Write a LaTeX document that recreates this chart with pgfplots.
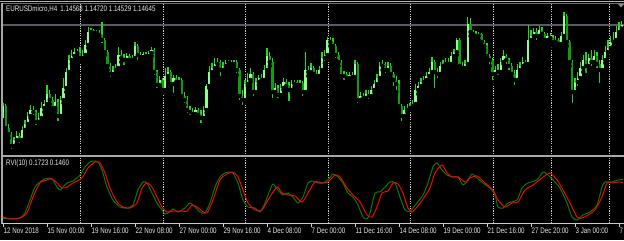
\documentclass[border=0pt]{standalone}
\usepackage{pgfplots}
\pgfplotsset{compat=1.18}
\usepackage{pgfplotstable}
\usepackage{graphicx}
\usepackage{fontspec}
\setmainfont{Liberation Sans}
\definecolor{wick}{HTML}{22D822}
\definecolor{bull}{HTML}{8CFF8C}
\definecolor{bear}{HTML}{0CA00C}
\definecolor{rvimain}{HTML}{008000}
\definecolor{rvisig}{HTML}{FF0000}
\definecolor{txt}{HTML}{E6E6E6}
\definecolor{framec}{HTML}{A8A8A8}
\definecolor{bidc}{HTML}{5A5A64}
\newcommand{\mt}[1]{\scalebox{0.78}[1]{\fontsize{8}{9}\selectfont #1}}

\pgfplotstableread{
i o h l c
0 1.1274 1.1308 1.1270 1.1302
1 1.1302 1.1306 1.1252 1.1258
2 1.1258 1.1266 1.1238 1.1246
3 1.1246 1.1250 1.1212 1.1222
4 1.1222 1.1240 1.1216 1.1234
5 1.1234 1.1252 1.1228 1.1242
6 1.1242 1.1248 1.1224 1.1234
7 1.1234 1.1262 1.1230 1.1254
8 1.1254 1.1274 1.1248 1.1266
9 1.1266 1.1290 1.1260 1.1282
10 1.1282 1.1304 1.1278 1.1294
11 1.1294 1.1302 1.1280 1.1290
12 1.1290 1.1294 1.1260 1.1270
13 1.1270 1.1288 1.1264 1.1278
14 1.1278 1.1310 1.1274 1.1298
15 1.1298 1.1314 1.1290 1.1306
16 1.1306 1.1344 1.1300 1.1326
17 1.1326 1.1334 1.1306 1.1314
18 1.1314 1.1320 1.1290 1.1298
19 1.1298 1.1326 1.1292 1.1310
20 1.1310 1.1316 1.1268 1.1282
21 1.1282 1.1322 1.1278 1.1314
22 1.1314 1.1358 1.1308 1.1338
23 1.1338 1.1378 1.1330 1.1370
24 1.1370 1.1404 1.1362 1.1394
25 1.1394 1.1414 1.1386 1.1402
26 1.1402 1.1418 1.1394 1.1410
27 1.1410 1.1416 1.1400 1.1408
28 1.1408 1.1420 1.1390 1.1398
29 1.1398 1.1414 1.1392 1.1404
30 1.1404 1.1434 1.1400 1.1424
31 1.1424 1.1460 1.1418 1.1450
32 1.1450 1.1458 1.1444 1.1454
33 1.1454 1.1456 1.1442 1.1448
34 1.1448 1.1454 1.1440 1.1450
35 1.1450 1.1454 1.1438 1.1444
36 1.1444 1.1470 1.1424 1.1434
37 1.1434 1.1438 1.1404 1.1410
38 1.1410 1.1414 1.1374 1.1382
39 1.1382 1.1388 1.1356 1.1366
40 1.1366 1.1382 1.1360 1.1374
41 1.1374 1.1386 1.1366 1.1378
42 1.1378 1.1420 1.1374 1.1404
43 1.1404 1.1414 1.1390 1.1398
44 1.1398 1.1406 1.1380 1.1394
45 1.1394 1.1408 1.1388 1.1402
46 1.1402 1.1406 1.1388 1.1394
47 1.1394 1.1404 1.1390 1.1398
48 1.1398 1.1430 1.1394 1.1422
49 1.1422 1.1426 1.1390 1.1404
50 1.1404 1.1410 1.1394 1.1400
51 1.1400 1.1410 1.1398 1.1406
52 1.1406 1.1410 1.1398 1.1402
53 1.1402 1.1412 1.1398 1.1408
54 1.1408 1.1420 1.1402 1.1414
55 1.1414 1.1418 1.1360 1.1370
56 1.1370 1.1374 1.1334 1.1344
57 1.1344 1.1362 1.1338 1.1354
58 1.1354 1.1358 1.1328 1.1334
59 1.1334 1.1378 1.1330 1.1362
60 1.1362 1.1380 1.1354 1.1370
61 1.1370 1.1374 1.1338 1.1346
62 1.1346 1.1364 1.1324 1.1358
63 1.1358 1.1364 1.1344 1.1350
64 1.1350 1.1360 1.1342 1.1354
65 1.1354 1.1358 1.1314 1.1322
66 1.1322 1.1330 1.1304 1.1314
67 1.1314 1.1322 1.1284 1.1294
68 1.1294 1.1302 1.1280 1.1290
69 1.1290 1.1298 1.1280 1.1286
70 1.1286 1.1300 1.1278 1.1294
71 1.1294 1.1298 1.1278 1.1284
72 1.1284 1.1294 1.1264 1.1278
73 1.1278 1.1302 1.1272 1.1294
74 1.1294 1.1346 1.1288 1.1342
75 1.1342 1.1382 1.1338 1.1370
76 1.1370 1.1388 1.1362 1.1378
77 1.1378 1.1398 1.1370 1.1386
78 1.1386 1.1398 1.1378 1.1390
79 1.1390 1.1394 1.1358 1.1374
80 1.1374 1.1390 1.1370 1.1382
81 1.1382 1.1394 1.1378 1.1388
82 1.1388 1.1394 1.1382 1.1390
83 1.1390 1.1394 1.1380 1.1386
84 1.1386 1.1394 1.1382 1.1390
85 1.1390 1.1394 1.1364 1.1374
86 1.1374 1.1378 1.1310 1.1322
87 1.1322 1.1334 1.1300 1.1314
88 1.1314 1.1354 1.1310 1.1346
89 1.1346 1.1368 1.1342 1.1354
90 1.1354 1.1378 1.1350 1.1366
91 1.1366 1.1370 1.1318 1.1330
92 1.1330 1.1358 1.1326 1.1350
93 1.1350 1.1364 1.1344 1.1358
94 1.1358 1.1366 1.1346 1.1354
95 1.1354 1.1384 1.1350 1.1374
96 1.1374 1.1418 1.1370 1.1402
97 1.1402 1.1410 1.1382 1.1390
98 1.1390 1.1398 1.1314 1.1330
99 1.1330 1.1348 1.1322 1.1338
100 1.1338 1.1344 1.1314 1.1324
101 1.1324 1.1346 1.1318 1.1338
102 1.1338 1.1358 1.1334 1.1350
103 1.1350 1.1356 1.1334 1.1342
104 1.1342 1.1350 1.1308 1.1334
105 1.1334 1.1354 1.1328 1.1346
106 1.1346 1.1354 1.1340 1.1350
107 1.1350 1.1354 1.1338 1.1344
108 1.1344 1.1354 1.1340 1.1348
109 1.1348 1.1352 1.1318 1.1330
110 1.1330 1.1410 1.1326 1.1374
111 1.1374 1.1382 1.1362 1.1370
112 1.1370 1.1388 1.1364 1.1378
113 1.1378 1.1382 1.1358 1.1366
114 1.1366 1.1374 1.1354 1.1362
115 1.1362 1.1382 1.1358 1.1374
116 1.1374 1.1410 1.1370 1.1398
117 1.1398 1.1414 1.1388 1.1404
118 1.1404 1.1440 1.1398 1.1434
119 1.1434 1.1440 1.1422 1.1430
120 1.1430 1.1438 1.1414 1.1422
121 1.1422 1.1426 1.1394 1.1404
122 1.1404 1.1410 1.1382 1.1390
123 1.1390 1.1394 1.1354 1.1362
124 1.1362 1.1372 1.1350 1.1366
125 1.1366 1.1370 1.1352 1.1358
126 1.1358 1.1370 1.1354 1.1364
127 1.1364 1.1370 1.1354 1.1360
128 1.1360 1.1394 1.1356 1.1386
129 1.1386 1.1390 1.1304 1.1314
130 1.1314 1.1330 1.1310 1.1322
131 1.1322 1.1328 1.1310 1.1318
132 1.1318 1.1334 1.1314 1.1326
133 1.1326 1.1334 1.1312 1.1322
134 1.1322 1.1342 1.1318 1.1334
135 1.1334 1.1354 1.1330 1.1346
136 1.1346 1.1366 1.1342 1.1358
137 1.1358 1.1390 1.1354 1.1382
138 1.1382 1.1394 1.1374 1.1386
139 1.1386 1.1390 1.1364 1.1374
140 1.1374 1.1390 1.1366 1.1382
141 1.1382 1.1388 1.1358 1.1366
142 1.1366 1.1370 1.1338 1.1354
143 1.1354 1.1362 1.1330 1.1346
144 1.1346 1.1354 1.1294 1.1302
145 1.1302 1.1306 1.1268 1.1282
146 1.1282 1.1302 1.1278 1.1294
147 1.1294 1.1306 1.1290 1.1298
148 1.1298 1.1308 1.1294 1.1302
149 1.1302 1.1314 1.1298 1.1306
150 1.1306 1.1346 1.1302 1.1334
151 1.1334 1.1350 1.1326 1.1342
152 1.1342 1.1358 1.1338 1.1350
153 1.1350 1.1362 1.1344 1.1354
154 1.1354 1.1370 1.1348 1.1362
155 1.1362 1.1378 1.1356 1.1370
156 1.1370 1.1400 1.1364 1.1390
157 1.1390 1.1394 1.1334 1.1370
158 1.1370 1.1378 1.1354 1.1366
159 1.1366 1.1390 1.1362 1.1382
160 1.1382 1.1394 1.1374 1.1386
161 1.1386 1.1398 1.1380 1.1390
162 1.1390 1.1398 1.1378 1.1386
163 1.1386 1.1410 1.1382 1.1402
164 1.1402 1.1416 1.1394 1.1410
165 1.1410 1.1438 1.1404 1.1434
166 1.1434 1.1438 1.1374 1.1382
167 1.1382 1.1390 1.1370 1.1378
168 1.1378 1.1394 1.1370 1.1386
169 1.1386 1.1480 1.1380 1.1466
170 1.1466 1.1478 1.1442 1.1450
171 1.1450 1.1454 1.1440 1.1446
172 1.1446 1.1452 1.1438 1.1442
173 1.1442 1.1450 1.1434 1.1446
174 1.1446 1.1448 1.1422 1.1430
175 1.1430 1.1434 1.1414 1.1422
176 1.1422 1.1428 1.1394 1.1402
177 1.1402 1.1406 1.1382 1.1394
178 1.1394 1.1398 1.1350 1.1366
179 1.1366 1.1382 1.1358 1.1374
180 1.1374 1.1386 1.1360 1.1370
181 1.1370 1.1398 1.1366 1.1390
182 1.1390 1.1414 1.1386 1.1402
183 1.1402 1.1406 1.1382 1.1394
184 1.1394 1.1398 1.1370 1.1382
185 1.1382 1.1388 1.1358 1.1366
186 1.1366 1.1374 1.1340 1.1354
187 1.1354 1.1386 1.1350 1.1374
188 1.1374 1.1390 1.1370 1.1382
189 1.1382 1.1400 1.1374 1.1390
190 1.1390 1.1394 1.1378 1.1386
191 1.1386 1.1464 1.1382 1.1434
192 1.1434 1.1454 1.1426 1.1442
193 1.1442 1.1458 1.1434 1.1450
194 1.1450 1.1458 1.1430 1.1442
195 1.1442 1.1462 1.1438 1.1454
196 1.1454 1.1460 1.1438 1.1446
197 1.1446 1.1450 1.1426 1.1434
198 1.1434 1.1448 1.1428 1.1442
199 1.1442 1.1448 1.1430 1.1438
200 1.1438 1.1444 1.1422 1.1430
201 1.1430 1.1442 1.1422 1.1434
202 1.1434 1.1438 1.1420 1.1426
203 1.1426 1.1450 1.1422 1.1442
204 1.1442 1.1490 1.1434 1.1482
205 1.1482 1.1486 1.1422 1.1430
206 1.1430 1.1434 1.1382 1.1390
207 1.1390 1.1394 1.1304 1.1330
208 1.1330 1.1358 1.1324 1.1350
209 1.1350 1.1370 1.1338 1.1358
210 1.1358 1.1390 1.1350 1.1378
211 1.1378 1.1404 1.1370 1.1394
212 1.1394 1.1410 1.1364 1.1382
213 1.1382 1.1406 1.1374 1.1398
214 1.1398 1.1414 1.1378 1.1390
215 1.1390 1.1414 1.1382 1.1402
216 1.1402 1.1410 1.1374 1.1386
217 1.1386 1.1394 1.1344 1.1374
218 1.1374 1.1404 1.1366 1.1394
219 1.1394 1.1422 1.1388 1.1410
220 1.1410 1.1434 1.1402 1.1418
221 1.1418 1.1442 1.1410 1.1430
222 1.1430 1.1450 1.1422 1.1434
223 1.1434 1.1462 1.1426 1.1450
224 1.1450 1.1470 1.1444 1.1457
225 1.14568 1.14720 1.14529 1.14645
}\candles

\pgfplotstableread{
i v
0 -0.150
2.55 -0.158
6.18 -0.150
8.0 -0.108
9.82 0.000
11.64 0.108
13.45 0.150
15.27 0.175
17.09 0.183
18.18 0.167
19.64 0.108
20.73 0.083
21.82 0.108
23.27 0.142
25.45 0.158
28.0 0.208
29.82 0.275
31.64 0.317
33.45 0.325
34.55 0.317
36.0 0.250
37.82 0.108
40.0 0.000
42.55 -0.058
45.09 -0.067
47.27 -0.042
49.09 0.083
50.91 0.150
52.36 0.142
54.18 0.058
56.0 -0.025
57.82 -0.083
58.91 -0.117
60.73 -0.100
61.82 -0.075
63.64 -0.100
66.18 -0.067
68.0 -0.025
69.82 -0.058
71.64 -0.100
73.45 -0.108
75.27 -0.025
77.09 0.108
78.91 0.192
80.73 0.225
82.55 0.233
83.64 0.225
85.45 0.142
87.27 0.000
89.09 -0.058
91.64 -0.067
93.45 -0.100
95.27 -0.025
97.09 0.083
98.18 0.133
100.0 0.083
101.82 0.042
103.64 0.058
105.45 0.025
107.27 -0.025
109.09 0.025
110.91 0.142
112.73 0.158
114.55 0.142
116.36 0.142
118.18 0.167
120.0 0.217
121.82 0.192
123.64 0.142
125.45 0.058
127.27 0.025
129.09 -0.042
130.91 -0.142
132.36 -0.158
133.45 -0.108
135.27 0.058
137.09 0.067
138.91 0.108
140.73 0.150
142.55 0.142
144.36 0.025
146.18 -0.083
148.0 -0.092
150.55 -0.025
152.73 0.042
154.55 0.142
156.36 0.275
157.82 0.308
159.64 0.250
161.45 0.208
163.64 0.192
165.45 0.192
167.27 0.125
169.09 0.167
170.55 0.217
172.36 0.183
174.55 0.142
177.09 0.100
178.91 0.042
180.0 -0.058
181.82 -0.067
183.64 -0.025
186.91 0.000
188.73 0.100
190.91 0.142
194.18 0.167
196.36 0.233
198.18 0.208
200.0 0.167
202.55 0.100
205.09 -0.025
206.91 -0.142
208.73 -0.167
210.91 -0.125
213.45 -0.100
216.0 -0.042
217.82 0.108
218.91 0.150
221.45 0.150
223.64 0.167
225.45 0.172
}\tabmain

\pgfplotstableread{
i v
0 -0.142
2.55 -0.158
6.18 -0.150
8.73 -0.108
10.91 0.025
13.45 0.142
16.0 0.167
17.82 0.175
19.64 0.142
21.45 0.100
23.27 0.108
25.45 0.142
28.73 0.183
30.91 0.267
33.45 0.317
35.27 0.308
37.09 0.225
38.91 0.100
41.45 -0.017
43.64 -0.058
46.18 -0.067
48.73 -0.025
50.55 0.100
52.36 0.142
54.18 0.108
56.0 0.025
57.82 -0.058
59.64 -0.100
61.82 -0.092
64.36 -0.092
66.91 -0.092
68.73 -0.042
70.55 -0.058
72.36 -0.092
74.18 -0.108
76.36 0.000
78.91 0.167
81.45 0.217
83.64 0.233
85.45 0.192
87.27 0.083
89.09 -0.025
91.64 -0.083
94.18 -0.083
96.36 0.000
99.64 0.108
101.45 0.058
103.64 0.042
106.18 0.033
108.73 -0.017
110.91 0.058
113.45 0.150
116.0 0.142
118.18 0.150
120.73 0.208
122.55 0.192
125.09 0.100
127.27 0.042
129.82 -0.017
132.36 -0.125
134.18 -0.142
136.0 -0.058
137.82 0.058
140.0 0.075
141.82 0.142
143.64 0.133
145.45 0.058
147.27 -0.067
148.73 -0.100
150.55 -0.058
152.73 0.008
155.27 0.100
157.09 0.225
159.64 0.292
161.45 0.225
163.27 0.192
165.45 0.192
168.0 0.150
169.82 0.183
172.36 0.200
175.27 0.142
178.18 0.083
180.0 0.000
182.55 -0.058
185.09 -0.025
187.27 -0.017
189.82 0.083
192.73 0.125
196.0 0.183
198.91 0.225
201.45 0.167
203.64 0.083
206.18 -0.025
208.73 -0.142
210.55 -0.150
212.73 -0.125
215.27 -0.083
217.82 0.025
219.64 0.142
221.82 0.142
223.64 0.150
225.45 0.146
}\tabsig

\begin{document}
\begin{tikzpicture}[x=1bp,y=1bp]
\useasboundingbox (0,0) rectangle (624,240);
\clip (0,0) rectangle (624,240);
\fill[black] (0,0) rectangle (624,240);
% period separators
\foreach \xx in {80,163,245,328,410,493,551,609}
  \draw[color=white!80!black, line width=0.9bp, dash pattern=on 1.2bp off 1.2bp] (\xx,16.5) -- (\xx,236);
% bid line
\draw[bidc, line width=1.4bp] (2,215) -- (624,215);

\begin{axis}[at={(2bp,85bp)}, anchor=south west, scale only axis,
  width=622bp, height=151bp, xmin=-0.364, xmax=225.82,
  ymin=1.1204, ymax=1.1506, hide axis, clip=true]
\addplot[only marks, mark=none, error bars/.cd, y dir=plus, y explicit,
  error mark=none, error bar style={line width=1.05bp, color=wick}]
  table[x=i, y=l, y error plus expr={\thisrow{h}-\thisrow{l}}] {\candles};
\addplot[only marks, mark=none, error bars/.cd, y dir=plus, y explicit,
  error mark=none, error bar style={line width=2.1bp, color=bull}]
  table[x=i, y expr={\thisrow{c}>=\thisrow{o} ? \thisrow{o} : 1.10},
    y error plus expr={\thisrow{c}>=\thisrow{o} ? max(\thisrow{c}-\thisrow{o},0.0001) : 0}] {\candles};
\addplot[only marks, mark=none, error bars/.cd, y dir=plus, y explicit,
  error mark=none, error bar style={line width=2.1bp, color=bear}]
  table[x=i, y expr={\thisrow{c}<\thisrow{o} ? \thisrow{c} : 1.10},
    y error plus expr={\thisrow{c}<\thisrow{o} ? \thisrow{o}-\thisrow{c} : 0}] {\candles};
\end{axis}

\begin{axis}[at={(2bp,17bp)}, anchor=south west, scale only axis,
  width=622bp, height=66bp, xmin=-0.364, xmax=225.82,
  ymin=-0.19167, ymax=0.35833, hide axis, clip=true]
\addplot[rvimain, line width=1bp, smooth, tension=0.4] table[x=i, y=v] {\tabmain};
\addplot[rvisig, line width=1bp, smooth, tension=0.4] table[x=i, y=v] {\tabsig};
\end{axis}

% frame
\draw[color=white!70!black, line width=1.2bp] (0,238.8) -- (624,238.8);
\draw[color=white!42!black, line width=1bp] (2,236.5) -- (624,236.5);
\draw[framec, line width=1.2bp] (2,16.5) -- (2,237);
\draw[framec, line width=2bp] (2,84) -- (624,84);
\draw[color=white!80!black, line width=1.2bp] (2,16.5) -- (624,16.5);
\fill[white!55!black] (618,236) -- (624,236) -- (621,232.5) -- cycle;
\foreach \xx in {3,47,91,135,179,223,267,311,355,399,443,487,531,575,619}
  \draw[white!80!black, line width=0.8bp] (\xx,16.5) -- (\xx,13);

% texts
\node[anchor=west, inner sep=0, text=txt] at (6,231) {\mt{EURUSDmicro,H4\hspace{4bp}1.14568 1.14720 1.14529 1.14645}};
\node[anchor=west, inner sep=0, text=txt] at (6,77) {\mt{RVI(10) 0.1723 0.1460}};
\foreach \xx/\lab in {3/12 Nov 2018,47/15 Nov 00:00,91/19 Nov 16:00,135/22 Nov 08:00,179/27 Nov 00:00,223/29 Nov 16:00,267/4 Dec 08:00,311/7 Dec 00:00,355/11 Dec 16:00,399/14 Dec 08:00,443/19 Dec 00:00,487/21 Dec 16:00,531/27 Dec 20:00,575/3 Jan 00:00,619/7}
  \node[anchor=west, inner sep=0, text=txt] at (\xx+0.5,9) {\mt{\lab}};
\end{tikzpicture}
\end{document}
